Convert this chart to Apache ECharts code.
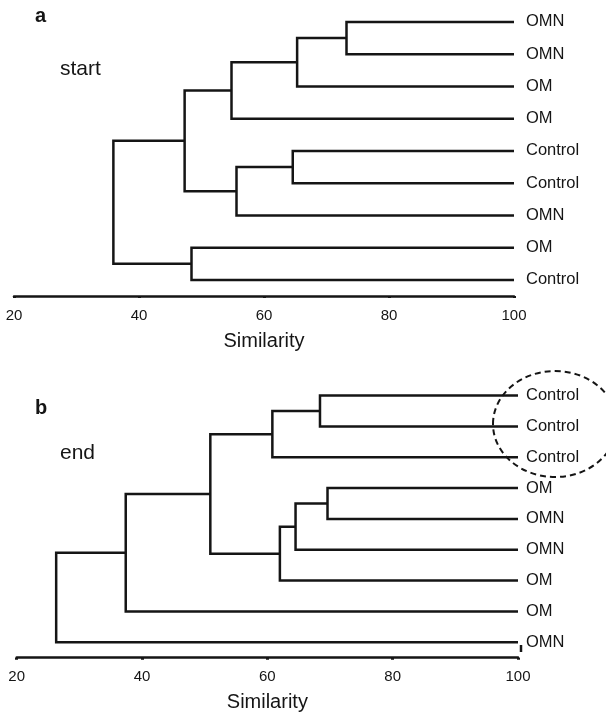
<!DOCTYPE html>
<html>
<head>
<meta charset="utf-8">
<script src="https://cdn.jsdelivr.net/npm/echarts@6/dist/echarts.min.js"></script>
<style>
html, body { margin: 0; padding: 0; background: #fff; }
#chart { width: 606px; height: 715px; }
</style>
</head>
<body>
<div id="chart"></div>
<script>
var xTicks = [20, 40, 60, 80, 100];

// leaves listed top to bottom
var startLabels = ['OMN', 'OMN', 'OM', 'OM', 'Control', 'Control', 'OMN', 'OM', 'Control'];
// merges: [node a, node b, similarity]; node ids >= 9 refer to earlier merges
var startMerges = [
    [0, 1, 73.2],
    [9, 2, 65.3],
    [10, 3, 54.8],
    [4, 5, 64.6],
    [12, 6, 55.6],
    [11, 13, 47.3],
    [7, 8, 48.4],
    [14, 15, 35.9]
];

var endLabels = ['Control', 'Control', 'Control', 'OM', 'OMN', 'OMN', 'OM', 'OM', 'OMN'];
var endMerges = [
    [0, 1, 68.4],
    [9, 2, 60.8],
    [3, 4, 69.6],
    [11, 5, 64.5],
    [12, 6, 62.0],
    [10, 13, 50.9],
    [14, 7, 37.4],
    [15, 8, 26.3]
];

var ink = '#151515';
var font = '"Liberation Sans", Arial, sans-serif';

// turn the merge list into U shapes: [xa, ya, sim, yb, xb]
var buildLinks = function (labels, merges) {
    var nodes = [];
    labels.forEach(function (l, i) { nodes.push({ x: xTicks[xTicks.length - 1], y: i }); });
    var links = [];
    merges.forEach(function (m) {
        var a = nodes[m[0]], b = nodes[m[1]];
        links.push([a.x, a.y, m[2], b.y, b.x]);
        nodes.push({ x: m[2], y: (a.y + b.y) / 2 });
    });
    return links;
};

var renderLink = function (params, api) {
    var p1 = api.coord([api.value(0), api.value(1)]);
    var p2 = api.coord([api.value(2), api.value(1)]);
    var p3 = api.coord([api.value(2), api.value(3)]);
    var p4 = api.coord([api.value(4), api.value(3)]);
    return {
        type: 'polyline',
        shape: { points: [p1, p2, p3, p4] },
        style: { stroke: ink, lineWidth: 2.5, fill: null, lineJoin: 'miter' }
    };
};

var xAxisFor = function (gridIndex) {
    return {
        type: 'value', gridIndex: gridIndex, position: 'bottom',
        min: xTicks[0], max: xTicks[xTicks.length - 1], interval: 20,
        name: 'Similarity', nameLocation: 'middle', nameGap: 35,
        nameTextStyle: { fontFamily: font, fontSize: 20, color: ink },
        axisLine: { onZero: false, lineStyle: { color: ink, width: 2.5 } },
        axisTick: { length: 2, lineStyle: { color: ink, width: 3 } },
        axisLabel: { margin: 12, fontFamily: font, fontSize: 15, color: ink },
        splitLine: { show: false }
    };
};

var myChart = echarts.init(document.getElementById('chart'));
myChart.setOption({
    animation: false,
    backgroundColor: '#fff',
    grid: [
        { left: 14, right: 92, top: 5.75, height: 290.25 },
        { left: 16.7, right: 88, top: 380.2, height: 277.5 }
    ],
    xAxis: [xAxisFor(0), xAxisFor(1)],
    yAxis: [
        { type: 'value', gridIndex: 0, inverse: true, min: -0.5, max: 8.5, show: false },
        { type: 'category', gridIndex: 0, inverse: true, position: 'right', data: startLabels,
          axisLine: { show: false }, axisTick: { show: false },
          axisLabel: { margin: 12, fontFamily: font, fontSize: 16.5, color: ink } },
        { type: 'value', gridIndex: 1, inverse: true, min: -0.5, max: 8.5, show: false },
        { type: 'category', gridIndex: 1, inverse: true, position: 'right', data: endLabels,
          axisLine: { show: false }, axisTick: { show: false },
          axisLabel: { margin: 8, fontFamily: font, fontSize: 16.5, color: ink } }
    ],
    series: [
        { type: 'custom', xAxisIndex: 0, yAxisIndex: 0, renderItem: renderLink,
          encode: { x: [0, 2, 4], y: [1, 3] }, data: buildLinks(startLabels, startMerges) },
        { type: 'custom', xAxisIndex: 1, yAxisIndex: 2, renderItem: renderLink,
          encode: { x: [0, 2, 4], y: [1, 3] }, data: buildLinks(endLabels, endMerges) }
    ],
    graphic: [
        { type: 'text', left: 35, top: 6, style: { text: 'a', font: 'bold 20px ' + font, fill: ink } },
        { type: 'text', left: 60, top: 59, style: { text: 'start', font: '21px ' + font, fill: ink } },
        { type: 'text', left: 35, top: 398, style: { text: 'b', font: 'bold 20px ' + font, fill: ink } },
        { type: 'text', left: 60, top: 443, style: { text: 'end', font: '21px ' + font, fill: ink } },
        { type: 'ellipse', shape: { cx: 555, cy: 424, rx: 62, ry: 53 },
          style: { fill: null, stroke: ink, lineWidth: 2, lineDash: [6, 4] } },
        { type: 'line', shape: { x1: 521, y1: 645, x2: 521, y2: 652 },
          style: { stroke: ink, lineWidth: 2.5 } }
    ]
});
</script>
</body>
</html>
